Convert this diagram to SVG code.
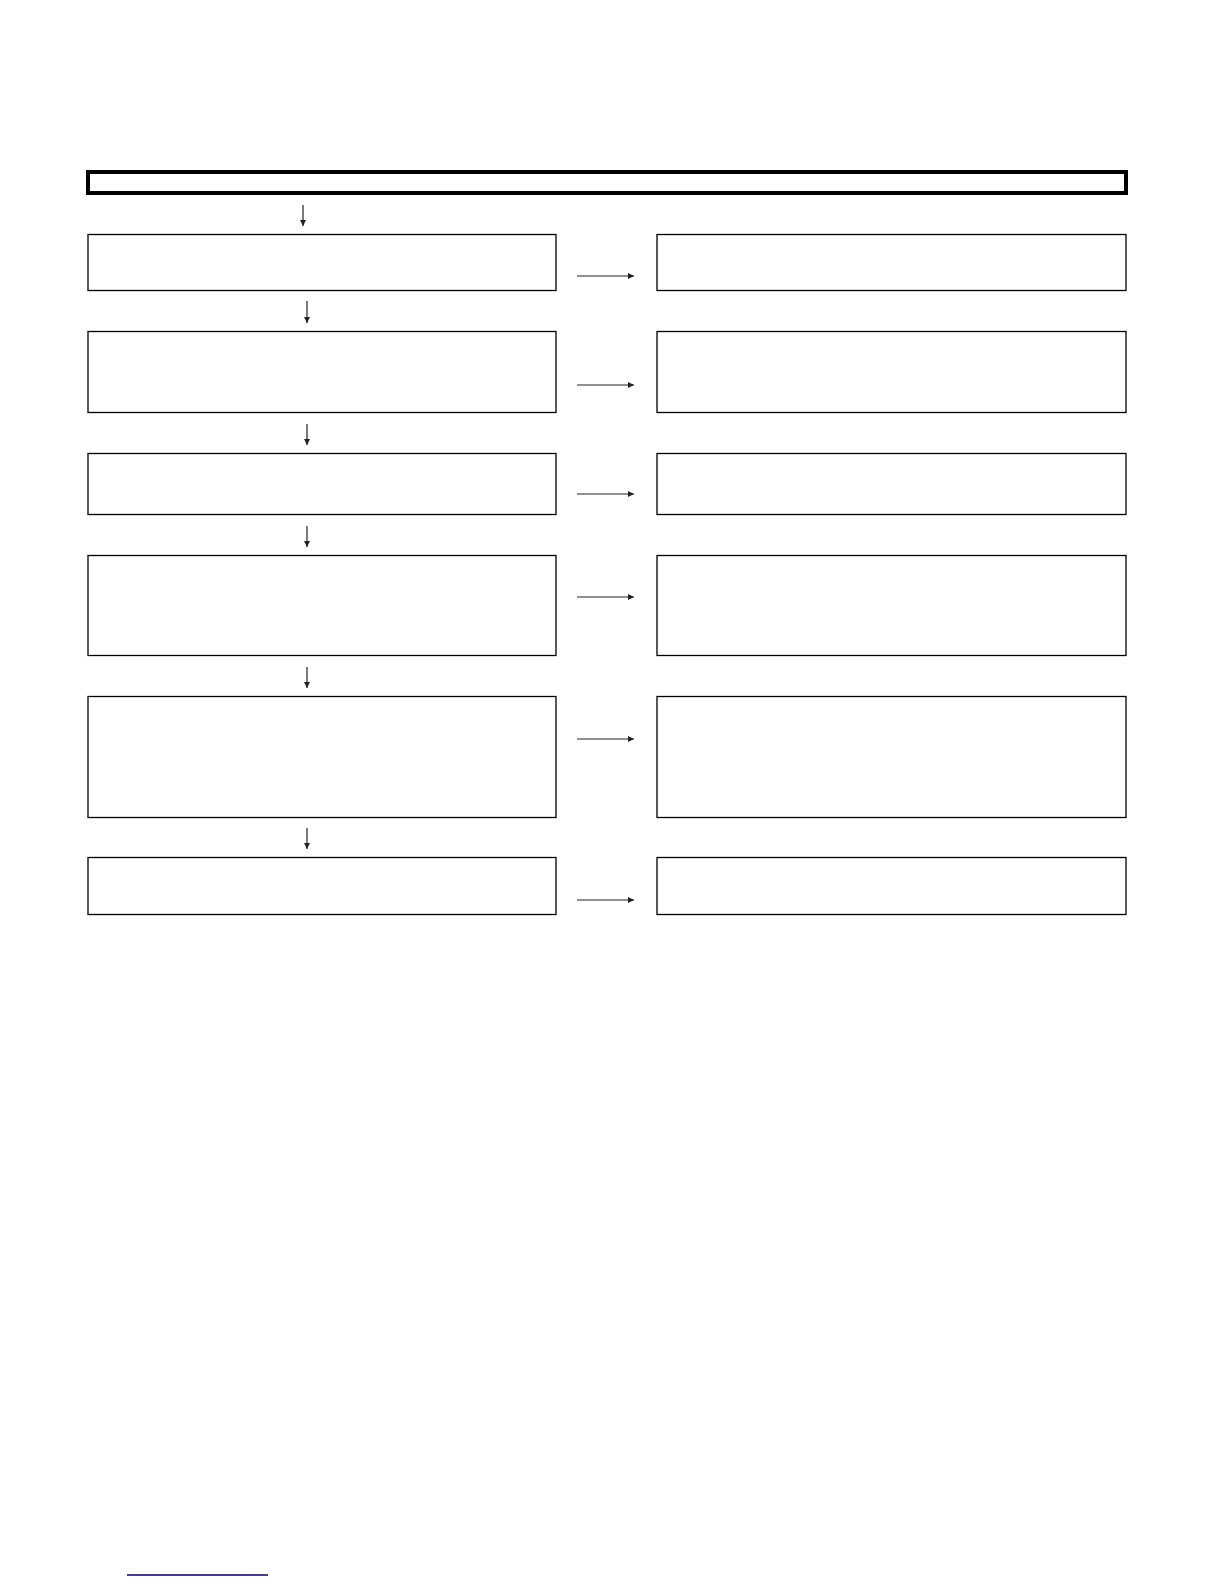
<svg xmlns="http://www.w3.org/2000/svg" width="1224" height="1584" viewBox="0 0 1224 1584">
<style>
.box{fill:#fff;stroke:#000;stroke-width:1.3}
.hdr{fill:#fff;stroke:#000;stroke-width:4}
.con{stroke:#222;stroke-width:1.2;fill:none}
</style>
<defs>
<marker id="ah" viewBox="0 0 10 10" refX="10" refY="5" markerWidth="9" markerHeight="6" markerUnits="userSpaceOnUse" orient="auto">
<path d="M0,0 L10,5 L0,10 z" fill="#222"/>
</marker>
</defs>
<rect width="1224" height="1584" fill="#fff"/>
<g id="header"><rect class="hdr" x="88" y="172" width="1038" height="21"/></g>
<g id="n1"><rect class="box" x="88" y="234.5" width="468" height="56"/></g>
<g id="n2"><rect class="box" x="657" y="234.5" width="469" height="56"/></g>
<g id="n3"><rect class="box" x="88" y="331.5" width="468" height="81"/></g>
<g id="n4"><rect class="box" x="657" y="331.5" width="469" height="81"/></g>
<g id="n5"><rect class="box" x="88" y="453.5" width="468" height="61"/></g>
<g id="n6"><rect class="box" x="657" y="453.5" width="469" height="61"/></g>
<g id="n7"><rect class="box" x="88" y="555.5" width="468" height="100"/></g>
<g id="n8"><rect class="box" x="657" y="555.5" width="469" height="100"/></g>
<g id="n9"><rect class="box" x="88" y="696.5" width="468" height="121"/></g>
<g id="n10"><rect class="box" x="657" y="696.5" width="469" height="121"/></g>
<g id="n11"><rect class="box" x="88" y="857.5" width="468" height="57"/></g>
<g id="n12"><rect class="box" x="657" y="857.5" width="469" height="57"/></g>
<g id="connectors">
<line class="con" x1="303" y1="205" x2="303" y2="226" marker-end="url(#ah)"/>
<line class="con" x1="307" y1="301" x2="307" y2="323" marker-end="url(#ah)"/>
<line class="con" x1="307" y1="424" x2="307" y2="445" marker-end="url(#ah)"/>
<line class="con" x1="307" y1="526" x2="307" y2="547" marker-end="url(#ah)"/>
<line class="con" x1="307" y1="667" x2="307" y2="688" marker-end="url(#ah)"/>
<line class="con" x1="307" y1="828" x2="307" y2="849" marker-end="url(#ah)"/>
<line class="con" x1="577" y1="276" x2="634" y2="276" marker-end="url(#ah)"/>
<line class="con" x1="577" y1="385" x2="634" y2="385" marker-end="url(#ah)"/>
<line class="con" x1="577" y1="494" x2="634" y2="494" marker-end="url(#ah)"/>
<line class="con" x1="577" y1="597" x2="634" y2="597" marker-end="url(#ah)"/>
<line class="con" x1="577" y1="739" x2="634" y2="739" marker-end="url(#ah)"/>
<line class="con" x1="577" y1="900" x2="634" y2="900" marker-end="url(#ah)"/>
</g>
<line x1="127" y1="1575" x2="268" y2="1575" stroke="#00007a" stroke-width="1.6"/>
</svg>
